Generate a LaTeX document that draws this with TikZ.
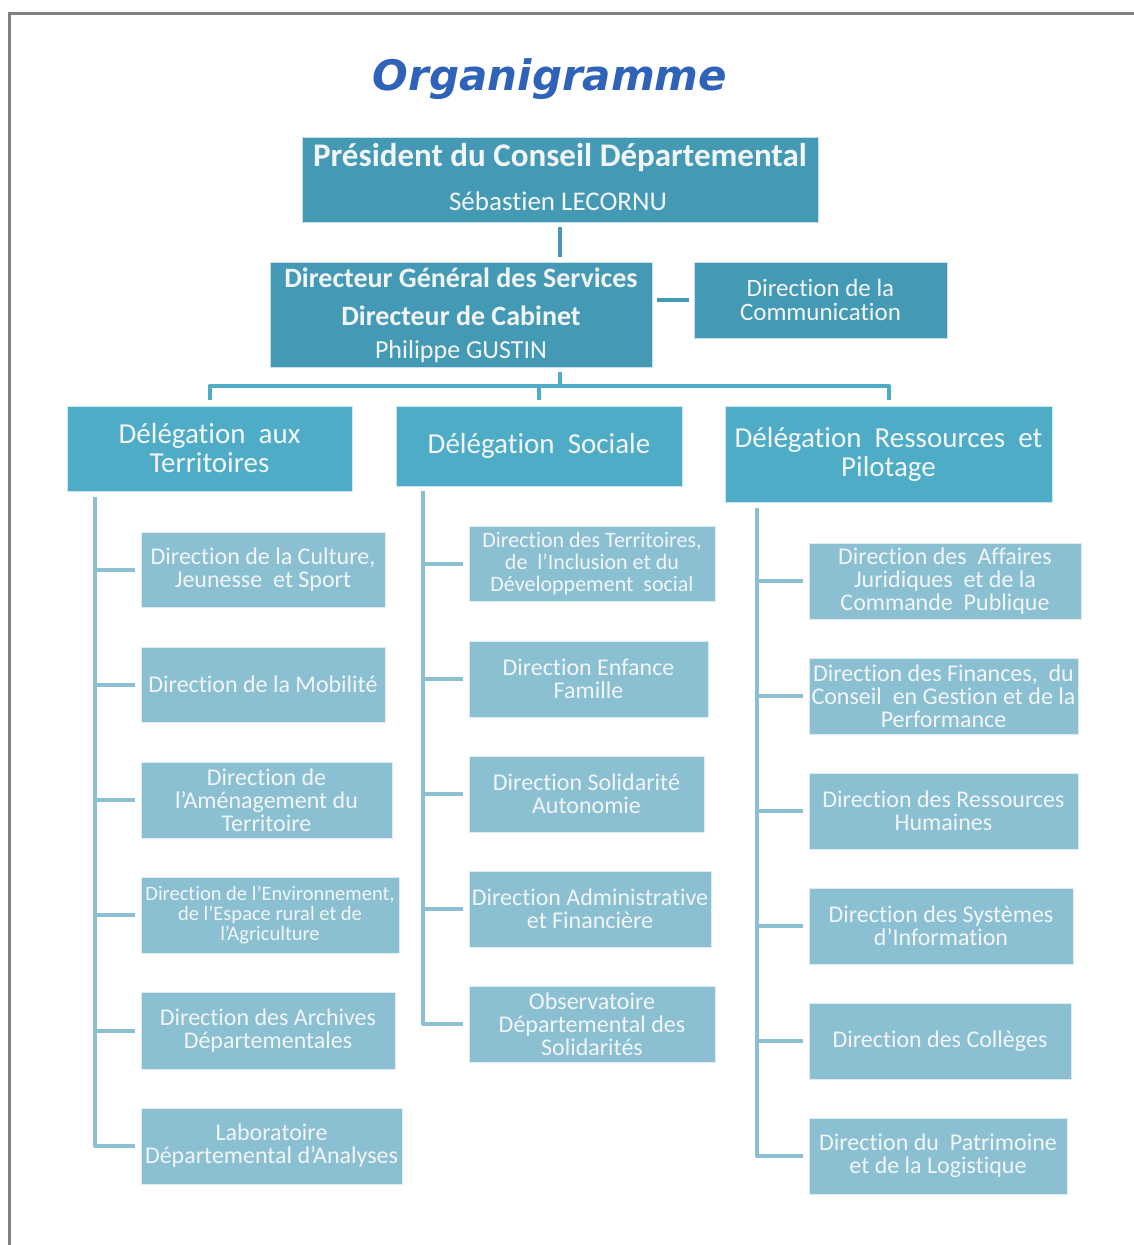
\documentclass[tikz,border=0pt]{standalone}
\usepackage{fontspec}
\setmainfont{Carlito}[Ligatures={NoCommon}]
\newfontfamily\titlefont{DejaVu Sans}
\newcommand\apos{\char"27\relax}
\definecolor{topc}{HTML}{4499B5}
\definecolor{delc}{HTML}{4FACC7}
\definecolor{leafc}{HTML}{8BBFD2}
\definecolor{txtc}{HTML}{F2F6F7}
\definecolor{titlec}{HTML}{2F62B9}
\definecolor{framec}{HTML}{808080}
\tikzset{
  every node/.style={inner sep=0pt, outer sep=0pt, align=center, text=txtc},
  topbox/.style={fill=topc, draw=white!70!topc, line width=0.8pt},
  delbox/.style={fill=delc, draw=white!70!delc, line width=0.8pt, font=\fontsize{29}{29}\selectfont},
  leafbox/.style={fill=leafc, draw=white!70!leafc, line width=0.8pt, font=\fontsize{24}{23}\selectfont},
  topconn/.style={draw=topc, line width=4pt},
  delconn/.style={draw=delc, line width=4pt, line join=round},
  leafconn/.style={draw=leafc, line width=4pt, line join=round},
}
\newcommand\obox[7]{\node[#6, anchor=north west, minimum width={(#4-#2)*1pt}, minimum height={(#5-#3)*1pt}] (#1) at (#2,#3) {#7};}
\begin{document}
\begin{tikzpicture}[x=1pt,y=-1pt]
\useasboundingbox (0,0) rectangle (1134,1245);
\fill[white] (0,0) rectangle (1134,1245);
% frame
\draw[framec, line width=3pt] (9,1245) -- (9,13) -- (1134,13);
% title
\node[text=titlec, font=\titlefont\bfseries\itshape\fontsize{42}{50}\selectfont] (title) at (550,79) {Organigramme};
% top
\obox{pres}{302}{137}{818}{222}{topbox}{}
\node[font=\bfseries\fontsize{33}{36}\selectfont] (presT) at (560,158) {Président du Conseil Départemental};
\node[font=\fontsize{27}{30}\selectfont] (presN) at (558,201) {Sébastien LECORNU};
\obox{dgs}{270}{262}{652}{367}{topbox}{}
\node[font=\bfseries\fontsize{28}{30}\selectfont] (dgs1) at (461,278) {Directeur Général des Services};
\node[font=\bfseries\fontsize{28}{30}\selectfont] (dgs2) at (461,316) {Directeur de Cabinet};
\node[font=\fontsize{26}{28}\selectfont] (dgs3) at (461,352) {Philippe GUSTIN};
\obox{com}{694}{262}{947}{338}{topbox,font=\fontsize{25}{24}\selectfont}{Direction de la\\Communication}
\draw[topconn] ([yshift=-5]pres.south) -- ([yshift=5]pres.south |- dgs.north);
\draw[topconn] ([xshift=5]com.west -| dgs.east) -- ([xshift=-5]com.west);
% delegations
\obox{dat}{67}{406}{352}{491}{delbox}{Délégation\ \ aux\\Territoires}
\obox{ds}{396}{406}{682}{486}{delbox}{Délégation\ \ Sociale}
\obox{drp}{725}{406}{1052}{502}{delbox}{Délégation\ \ Ressources\ \ et\\Pilotage}
\coordinate (bus) at (560,386);
\draw[delconn] ([yshift=-5]bus |- dgs.south) -- (bus);
\draw[delconn] ([yshift=6]dat.north) -- (dat.north |- bus) -- (drp.north |- bus) -- ([yshift=6]drp.north);
\draw[delconn] (ds.north |- bus) -- ([yshift=6]ds.north);
% left column
\obox{a1}{141}{532}{385}{607}{leafbox}{Direction de la Culture,\\Jeunesse\ \ et Sport}
\obox{a2}{141}{647}{385}{722}{leafbox}{Direction de la Mobilité}
\obox{a3}{141}{762}{392}{838}{leafbox}{Direction de\\l\apos Aménagement du\\Territoire}
\obox{a4}{141}{877}{399}{953}{leafbox,font=\fontsize{20.5}{20}\selectfont}{Direction de l\apos Environnement,\\de l\apos Espace rural et de\\l\apos Agriculture}
\obox{a5}{141}{992}{395}{1069}{leafbox}{Direction des Archives\\Départementales}
\obox{a6}{141}{1108}{402}{1184}{leafbox}{Laboratoire\\Départemental d\apos Analyses}
\coordinate (sa) at (95,497);
\draw[leafconn] (sa) |- ([xshift=-6]a6.west);
\foreach \n in {a1,a2,a3,a4,a5}{\draw[leafconn] (sa |- \n.west) -- ([xshift=-6]\n.west);}
% middle column
\obox{b1}{469}{526}{715}{601}{leafbox,font=\fontsize{22}{22}\selectfont}{Direction des Territoires,\\de\ \ l\apos Inclusion et du\\Développement\ \ social}
\obox{b2}{469}{641}{708}{717}{leafbox}{Direction Enfance\\Famille}
\obox{b3}{469}{756}{704}{832}{leafbox}{Direction Solidarité\\Autonomie}
\obox{b4}{469}{871}{711}{947}{leafbox}{Direction Administrative\\et Financière}
\obox{b5}{469}{986}{715}{1062}{leafbox}{Observatoire\\Départemental des\\Solidarités}
\coordinate (sb) at (423,491);
\draw[leafconn] (sb) |- ([xshift=-6]b5.west);
\foreach \n in {b1,b2,b3,b4}{\draw[leafconn] (sb |- \n.west) -- ([xshift=-6]\n.west);}
% right column
\obox{c1}{809}{543}{1081}{619}{leafbox}{Direction des\ \ Affaires\\Juridiques\ \ et de la\\Commande\ \ Publique}
\obox{c2}{809}{658}{1078}{734}{leafbox}{Direction des Finances,\ \ du\\Conseil\ \ en Gestion et de la\\Performance}
\obox{c3}{809}{773}{1078}{849}{leafbox}{Direction des Ressources\\Humaines}
\obox{c4}{809}{888}{1073}{964}{leafbox}{Direction des Systèmes\\d\apos Information}
\obox{c5}{809}{1003}{1071}{1079}{leafbox}{Direction des Collèges}
\obox{c6}{809}{1118}{1067}{1194}{leafbox}{Direction du\ \ Patrimoine\\et de la Logistique}
\coordinate (sc) at (757,508);
\draw[leafconn] (sc) |- ([xshift=-6]c6.west);
\foreach \n in {c1,c2,c3,c4,c5}{\draw[leafconn] (sc |- \n.west) -- ([xshift=-6]\n.west);}
\end{tikzpicture}
\end{document}
